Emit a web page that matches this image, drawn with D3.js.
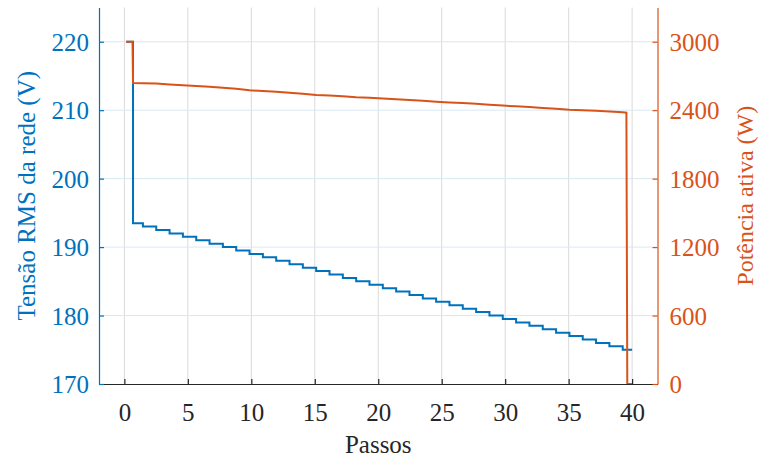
<!DOCTYPE html>
<html><head><meta charset="utf-8">
<script src="https://cdn.jsdelivr.net/npm/d3@7"></script>
<style>body{margin:0;background:#fff}svg{display:block}
text{font-family:"Liberation Serif","DejaVu Serif","Times New Roman",serif !important}</style>
</head><body><svg id="c" width="761" height="459"></svg>
<script>
// ---- data ----
const xTicks = [0, 5, 10, 15, 20, 25, 30, 35, 40];
const vTicks = [170, 180, 190, 200, 210, 220];
const pTicks = [0, 600, 1200, 1800, 2400, 3000];

const voltX = [0.15, 0.68, 1.46, 2.51, 3.56, 4.61, 5.66, 6.71, 7.76, 8.81, 9.86, 10.91, 11.96, 13.01, 14.06, 15.11, 16.16, 17.21, 18.26, 19.31, 20.36, 21.41, 22.46, 23.51, 24.56, 25.61, 26.66, 27.71, 28.76, 29.81, 30.86, 31.91, 32.96, 34.01, 35.06, 36.11, 37.16, 38.21, 39.26, 40.0];
const voltV = [220, 193.5, 193.0, 192.5, 192.0, 191.5, 191.0, 190.5, 190.0, 189.5, 189.0, 188.5, 188.0, 187.5, 187.0, 186.5, 186.0, 185.5, 185.0, 184.5, 184.0, 183.5, 183.0, 182.5, 182.0, 181.5, 181.0, 180.5, 180.0, 179.5, 179.0, 178.5, 178.0, 177.5, 177.0, 176.5, 176.0, 175.5, 175.0, 175.0];

const powX = [0.13, 0.64, 0.68, 1.46, 2.51, 3.56, 4.61, 5.66, 6.71, 7.76, 8.81, 9.86, 10.91, 11.96, 13.01, 14.06, 15.11, 16.16, 17.21, 18.26, 19.31, 20.36, 21.41, 22.46, 23.51, 24.56, 25.61, 26.66, 27.71, 28.76, 29.81, 30.86, 31.91, 32.96, 34.01, 35.06, 36.11, 37.16, 38.21, 39.26, 39.55, 39.62, 40.0];
const powW = [3000, 3000, 2638, 2636, 2634, 2626, 2618, 2612, 2606, 2596, 2588, 2574, 2568, 2562, 2552, 2544, 2534, 2528, 2522, 2514, 2510, 2502, 2496, 2490, 2482, 2474, 2468, 2462, 2456, 2448, 2440, 2434, 2428, 2420, 2412, 2404, 2400, 2394, 2388, 2382, 2378, 0, 0];

// ---- layout ----
const L = 99, R = 657.5, T = 7.5, B = 384;
const BLUE = "#0072BD", ORANGE = "#D95319", DARK = "#262626";

const svg = d3.select("#c");
const x = d3.scaleLinear().domain([-2, 42]).range([L, R]);
const yL = d3.scaleLinear().domain([170, 225]).range([B, T]);
const yR = d3.scaleLinear().domain([0, 3300]).range([B, T]);

// grid
const g = svg.append("g");
g.selectAll("line.vg").data(xTicks).join("line")
  .attr("x1", d => x(d)).attr("x2", d => x(d)).attr("y1", T).attr("y2", B)
  .attr("stroke", "#dadada").attr("stroke-width", 1);
g.selectAll("line.hg").data(vTicks.slice(1)).join("line")
  .attr("x1", L).attr("x2", R).attr("y1", d => yL(d)).attr("y2", d => yL(d))
  .attr("stroke", "#d9e8f4").attr("stroke-width", 1);

// lines
const voltData = voltX.map((d, i) => [d, voltV[i]]);
const powData = powX.map((d, i) => [d, powW[i]]);
svg.append("path").datum(voltData)
  .attr("d", d3.line().x(d => x(d[0])).y(d => yL(d[1])).curve(d3.curveStepAfter))
  .attr("fill", "none").attr("stroke", BLUE).attr("stroke-width", 2);
svg.append("path").datum(powData)
  .attr("d", d3.line().x(d => x(d[0])).y(d => yR(d[1])))
  .attr("fill", "none").attr("stroke", ORANGE).attr("stroke-width", 2);

// axes
function style(sel, color) {
  sel.attr("font-family", null);
  sel.select(".domain").attr("stroke", color).attr("stroke-width", 1.2);
  sel.selectAll(".tick line").attr("stroke", color).attr("stroke-width", 1.2);
  sel.selectAll(".tick text").attr("fill", color).attr("font-size", 25);
}
const fmt = d3.format("d");
const ax = svg.append("g").attr("transform", `translate(0,${B})`)
  .call(d3.axisBottom(x).tickValues(xTicks).tickFormat(fmt).tickSize(-5).tickSizeOuter(0));
style(ax, DARK);
ax.selectAll(".tick text").attr("dy", null).attr("y", 37);

const al = svg.append("g").attr("transform", `translate(${L},0)`)
  .call(d3.axisLeft(yL).tickValues(vTicks).tickFormat(fmt).tickSize(-5).tickSizeOuter(0));
style(al, BLUE);
al.selectAll(".tick text").attr("x", -10).attr("dy", "0.34em");

const ar = svg.append("g").attr("transform", `translate(${R},0)`)
  .call(d3.axisRight(yR).tickValues(pTicks).tickFormat(fmt).tickSize(-5).tickSizeOuter(0));
style(ar, ORANGE);
ar.selectAll(".tick text").attr("x", 12).attr("dy", "0.34em");

// titles
svg.append("text").attr("x", (L + R) / 2).attr("y", 453).attr("text-anchor", "middle")
  .attr("font-size", 25).attr("fill", DARK).text("Passos");
svg.append("text").attr("transform", `translate(35,${(T + B) / 2}) rotate(-90)`)
  .attr("text-anchor", "middle").attr("font-size", 25)
  .attr("fill", BLUE).text("Tensão RMS da rede (V)");
svg.append("text").attr("transform", `translate(736,${(T + B) / 2}) rotate(-90)`)
  .attr("text-anchor", "middle").attr("dy", "0.7em").attr("font-size", 24)
  .attr("fill", ORANGE).text("Potência ativa (W)");
</script></body></html>
